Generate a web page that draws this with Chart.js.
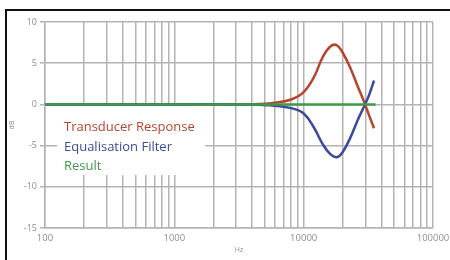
<!DOCTYPE html>
<html>
<head>
<meta charset="utf-8">
<script src="https://cdn.jsdelivr.net/npm/chart.js@4"></script>
<style>
  html, body { margin: 0; padding: 0; background: #fff; }
  #wrap { position: relative; width: 450px; height: 260px; overflow: hidden; }
  #frame { position: absolute; left: 5px; top: 9px; width: 500px; height: 300px;
           border-top: 2px solid #111; border-left: 2px solid #111; }
  canvas { position: absolute; left: 0; top: 0; }
</style>
</head>
<body>
<div id="wrap">
  <div id="frame"></div>
  <canvas id="chart" width="450" height="260"></canvas>
</div>
<script>
// frequencies (Hz) and responses (dB)
const freqs = [100, 1000, 3000, 4500, 6000, 8000, 10000, 12000, 14000, 16000, 18000, 20000, 23000, 26000, 29000, 32000, 35000];
const transducer = [0, 0, 0, 0.05, 0.2, 0.6, 1.5, 3.3, 5.7, 7.0, 7.2, 6.3, 4.4, 2.3, 0.5, -1.3, -2.9];
const equaliser = [0, 0, 0, -0.05, -0.15, -0.45, -1.1, -2.8, -4.8, -6.0, -6.4, -5.8, -4.0, -2.0, -0.4, 1.1, 2.9];
const resultFreqs = [100, 36000];
const result = [0, 0];

const seriesLabels = ['Transducer Response', 'Equalisation Filter', 'Result'];
const seriesColors = ['#b5452e', '#3b4a9c', '#3f9a48'];

const majorTicks = [100, 1000, 10000, 100000];
const yTicks = [-15, -10, -5, 0, 5, 10];

function pairs(xs, ys) {
    return xs.map((x, i) => ({ x: x, y: ys[i] }));
}

// white box with coloured labels, sitting inside the plot
const legendBox = {
    id: 'legendBox',
    afterDatasetsDraw(chart) {
        const ctx = chart.ctx;
        ctx.save();
        ctx.fillStyle = '#fff';
        ctx.fillRect(57, 106, 148, 69);
        ctx.font = '13px "Open Sans"';
        ctx.textBaseline = 'middle';
        const rows = [127, 147, 166];
        seriesLabels.forEach((label, i) => {
            ctx.fillStyle = seriesColors[i];
            ctx.fillText(label, 64, rows[i]);
        });
        ctx.restore();
    }
};

const gridColor = '#b3b3b3';

new Chart(document.getElementById('chart'), {
    type: 'line',
    data: {
        datasets: [
            {
                label: seriesLabels[0],
                data: pairs(freqs, transducer),
                borderColor: seriesColors[0],
                borderWidth: 2.5,
                pointRadius: 0,
                tension: 0.4,
                order: 2
            },
            {
                label: seriesLabels[1],
                data: pairs(freqs, equaliser),
                borderColor: seriesColors[1],
                borderWidth: 2.5,
                pointRadius: 0,
                tension: 0.4,
                order: 1
            },
            {
                label: seriesLabels[2],
                data: pairs(resultFreqs, result),
                borderColor: seriesColors[2],
                borderWidth: 2.5,
                pointRadius: 0,
                order: 0
            }
        ]
    },
    options: {
        responsive: false,
        animation: false,
        layout: { padding: { top: 22, right: 17, left: 0, bottom: 0 } },
        plugins: {
            legend: { display: false },
            tooltip: { enabled: false }
        },
        scales: {
            x: {
                type: 'logarithmic',
                min: 100,
                max: 100000,
                afterBuildTicks: function(scale) {
                    const ticks = [];
                    majorTicks.forEach((m, i) => {
                        if (i === majorTicks.length - 1) {
                            ticks.push({ value: m });
                            return;
                        }
                        for (let k = 1; k <= 9; k++) ticks.push({ value: m * k });
                    });
                    scale.ticks = ticks;
                },
                afterFit: function(scale) {
                    scale.height = 32;
                    scale.paddingLeft = 0;
                    scale.paddingRight = 0;
                },
                ticks: {
                    autoSkip: false,
                    maxRotation: 0,
                    padding: 5,
                    color: '#8e8e8e',
                    font: { family: 'Open Sans', size: 9.5 },
                    callback: function(value) {
                        return majorTicks.includes(value) ? String(value) : '';
                    }
                },
                grid: { color: gridColor, lineWidth: 1.5, drawTicks: false },
                border: { color: gridColor, width: 1.5 },
                title: {
                    display: true,
                    text: 'Hz',
                    color: '#8e8e8e',
                    font: { family: 'Open Sans', size: 7 },
                    padding: { top: 0, bottom: 6 }
                }
            },
            y: {
                min: -15,
                max: 10,
                afterBuildTicks: function(scale) {
                    scale.ticks = yTicks.map(v => ({ value: v }));
                },
                afterFit: function(scale) {
                    scale.width = 45;
                },
                ticks: {
                    padding: 3,
                    color: '#8e8e8e',
                    font: { family: 'Open Sans', size: 9 }
                },
                grid: { color: gridColor, lineWidth: 1.5, tickLength: 5 },
                border: { color: gridColor, width: 1.5 },
                title: {
                    display: true,
                    text: 'dB',
                    color: '#8e8e8e',
                    font: { family: 'Open Sans', size: 7 },
                    padding: { top: 8, bottom: 0 }
                }
            }
        }
    },
    plugins: [legendBox]
});
</script>
</body>
</html>
